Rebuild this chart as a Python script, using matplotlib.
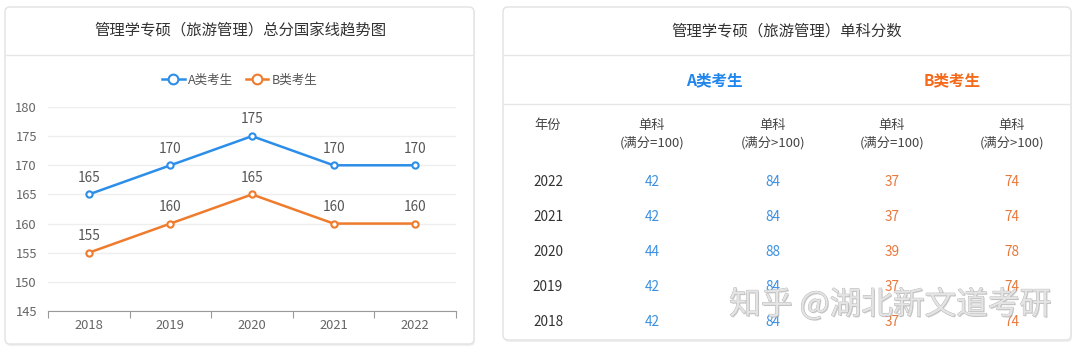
import matplotlib
matplotlib.use("Agg")
import matplotlib.pyplot as plt
from matplotlib.patches import FancyBboxPatch
from matplotlib.lines import Line2D
import matplotlib.patheffects as pe

plt.rcParams['font.family'] = ['Noto Sans CJK SC', 'DejaVu Sans']

# ---- data ----
years = ['2018', '2019', '2020', '2021', '2022']
a_total = [165, 170, 175, 170, 170]
b_total = [155, 160, 165, 160, 160]
y_ticks = [145, 150, 155, 160, 165, 170, 175, 180]

left_title = '管理学专硕（旅游管理）总分国家线趋势图'
right_title = '管理学专硕（旅游管理）单科分数'
series_names = ['A类考生', 'B类考生']
col_headers = ['年份', '单科\n(满分=100)', '单科\n(满分>100)', '单科\n(满分=100)', '单科\n(满分>100)']
table_years = ['2022', '2021', '2020', '2019', '2018']
a_single_100 = [42, 42, 44, 42, 42]
a_single_over = [84, 84, 88, 84, 84]
b_single_100 = [37, 37, 39, 37, 37]
b_single_over = [74, 74, 78, 74, 74]
watermark = '知乎 @湖北新文道考研'

BLUE = '#2c8ee8'
ORANGE = '#ef7b2c'
TXT_BLUE = '#3b8fe0'
TXT_ORANGE = '#e8773a'
HEAD_BLUE = '#1f86ee'
HEAD_ORANGE = '#f56a1a'

W, H = 1080, 350
fig = plt.figure(figsize=(W / 100, H / 100), dpi=100)

# background pixel-coordinate axes
bg = fig.add_axes([0, 0, 1, 1])
bg.set_xlim(0, W)
bg.set_ylim(H, 0)
bg.axis('off')

def card(x0, y0, x1, y1):
    bg.add_patch(FancyBboxPatch((x0 + 1, y0 + 2), x1 - x0, y1 - y0,
                                boxstyle='round,pad=0,rounding_size=5',
                                facecolor='#f0f0f0', edgecolor='none', zorder=0))
    bg.add_patch(FancyBboxPatch((x0, y0), x1 - x0, y1 - y0,
                                boxstyle='round,pad=0,rounding_size=5',
                                facecolor='white', edgecolor='#e2e2e2', lw=1, zorder=1))

card(5, 7, 474, 344)
card(503, 7, 1071, 340)

# left card title
bg.text(240, 31, left_title, ha='center', va='center', fontsize=11.1, color='#333333', zorder=3)
bg.plot([6, 473], [55, 55], color='#e6e6e6', lw=1, zorder=2)

# right card
bg.text(787, 31, right_title, ha='center', va='center', fontsize=11.1, color='#333333', zorder=3)
bg.plot([504, 1070], [55, 55], color='#e6e6e6', lw=1, zorder=2)
bg.text(714, 80, series_names[0], ha='center', va='center', fontsize=11.2,
        fontweight='bold', color=HEAD_BLUE, zorder=3)
bg.text(952, 80, series_names[1], ha='center', va='center', fontsize=11.2,
        fontweight='bold', color=HEAD_ORANGE, zorder=3)
bg.plot([504, 1070], [104, 104], color='#e6e6e6', lw=1, zorder=2)

col_x = [548, 652, 773, 892, 1012]
for i, h in enumerate(col_headers):
    lines = h.split('\n')
    bg.text(col_x[i], 125, lines[0], ha='center', va='center', fontsize=9.5, color='#444444', zorder=3)
    if len(lines) > 1:
        bg.text(col_x[i], 143, lines[1], ha='center', va='center', fontsize=9.5, color='#444444', zorder=3)

row_y0, row_dy = 182, 35
cols = [(a_single_100, TXT_BLUE), (a_single_over, TXT_BLUE),
        (b_single_100, TXT_ORANGE), (b_single_over, TXT_ORANGE)]
for r, yr in enumerate(table_years):
    y = row_y0 + r * row_dy
    bg.text(col_x[0], y, yr, ha='center', va='center', fontsize=9.8, color='#333333', zorder=3)
    for c, (vals, colr) in enumerate(cols):
        bg.text(col_x[c + 1], y, str(vals[r]), ha='center', va='center', fontsize=9.8, color=colr, zorder=3)

# watermark (light fill, thin grey outline, faint shadow)
bg.text(890, 305, watermark, ha='center', va='center', fontsize=22.8, color='#e4e4e4', zorder=10,
        path_effects=[pe.SimplePatchShadow(offset=(0.8, -0.8), shadow_rgbFace='#9a9a9a', alpha=0.5),
                      pe.withStroke(linewidth=0.6, foreground='#b4b4b4')])

# ---- line chart ----
ax = fig.add_axes([48 / W, 1 - 311 / H, (456 - 48) / W, (311 - 107) / H])
ax.set_facecolor('none')
x = list(range(len(years)))
ax.plot(x, a_total, color=BLUE, lw=1.8, marker='o', ms=4.5, mfc='white', mec=BLUE, mew=1.5,
        clip_on=False, zorder=4)
ax.plot(x, b_total, color=ORANGE, lw=1.8, marker='o', ms=4.5, mfc='white', mec=ORANGE, mew=1.5,
        clip_on=False, zorder=4)
for xi, v in zip(x, a_total):
    ax.annotate(str(v), (xi, v), xytext=(0, 7), textcoords='offset points', ha='center', va='bottom',
                fontsize=9.8, color='#555555')
for xi, v in zip(x, b_total):
    ax.annotate(str(v), (xi, v), xytext=(0, 7), textcoords='offset points', ha='center', va='bottom',
                fontsize=9.8, color='#555555')

ax.set_xlim(-0.5, len(years) - 0.5)
ax.set_ylim(y_ticks[0], y_ticks[-1])
ax.set_yticks(y_ticks)
ax.set_yticklabels([str(t) for t in y_ticks])
ax.yaxis.grid(True, color='#eeeeee', lw=1)
ax.set_axisbelow(True)
ax.tick_params(axis='y', length=0, labelsize=9.3, labelcolor='#666666', pad=8)
ax.set_xticks([i - 0.5 for i in range(len(years) + 1)], minor=False)
ax.set_xticklabels([''] * (len(years) + 1))
ax.set_xticks(x, minor=True)
ax.set_xticklabels(years, minor=True)
ax.tick_params(axis='x', which='major', length=5, color='#999999', direction='out')
ax.tick_params(axis='x', which='minor', length=0, labelsize=9.3, labelcolor='#666666', pad=6)
for s in ['top', 'right', 'left']:
    ax.spines[s].set_visible(False)
ax.spines['bottom'].set_color('#999999')

handles = [Line2D([], [], color=BLUE, lw=1.8, marker='o', ms=7, mfc='white', mec=BLUE, mew=1.5),
           Line2D([], [], color=ORANGE, lw=1.8, marker='o', ms=7, mfc='white', mec=ORANGE, mew=1.5)]
fig.legend(handles, series_names, loc='center', bbox_to_anchor=(240 / W, 1 - 80 / H), ncol=2,
           frameon=False, fontsize=9, labelcolor='#555555', handlelength=1.8, handletextpad=0.3,
           columnspacing=1.0)

fig.savefig('out.png', dpi=100)
